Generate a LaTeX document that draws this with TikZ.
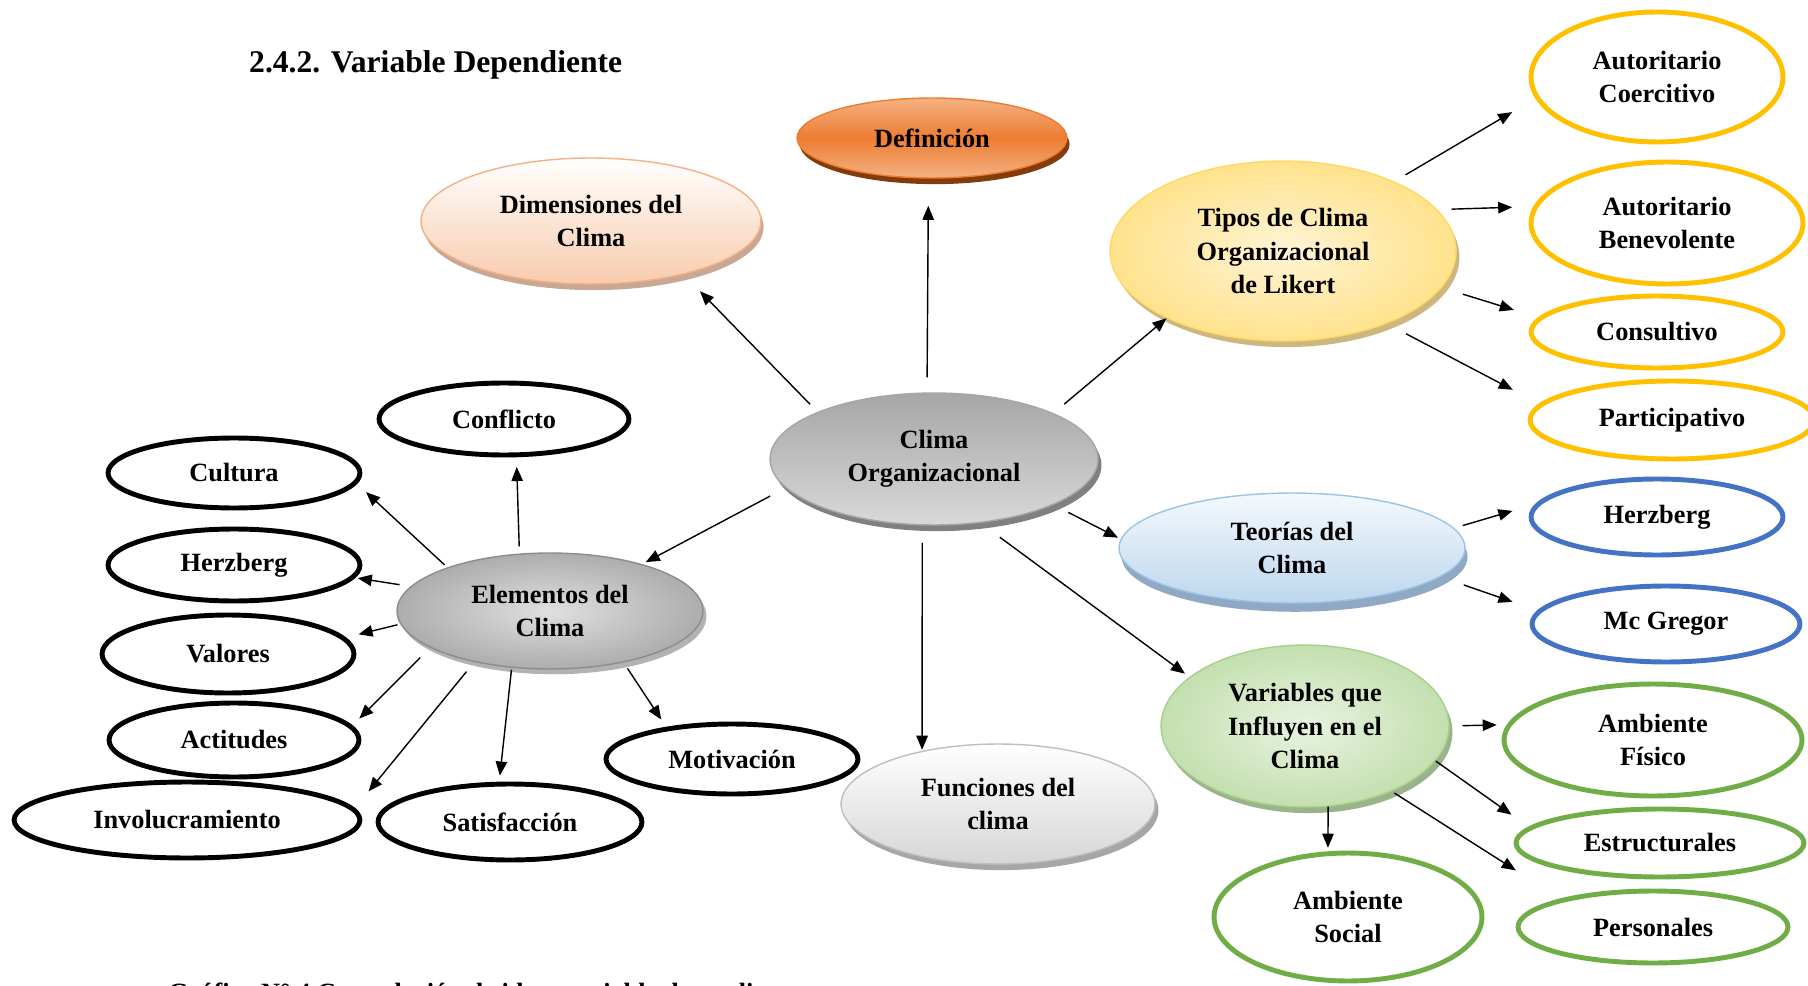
\documentclass[tikz,border=0pt]{standalone}
\usepackage{fontspec}
\setmainfont{Liberation Serif}
\usetikzlibrary{arrows.meta,shapes.geometric,shadows}

\definecolor{orMid}{HTML}{ED7D31}
\definecolor{orLight}{HTML}{F4B183}
\definecolor{orShadow}{HTML}{843C0C}
\definecolor{peach}{HTML}{F8CBAD}
\definecolor{peachLine}{HTML}{F4B183}
\definecolor{peachShadow}{HTML}{C8A894}
\definecolor{yelOuter}{HTML}{FFD966}
\definecolor{yelInner}{HTML}{FFF4D6}
\definecolor{yelShadow}{HTML}{CDB77E}
\definecolor{likert}{HTML}{FFC000}
\definecolor{blueTop}{HTML}{F4F9FD}
\definecolor{blueLight}{HTML}{BDD7EE}
\definecolor{blueLine}{HTML}{9DC3E6}
\definecolor{blueShadow}{HTML}{8FA9C4}
\definecolor{teoria}{HTML}{4472C4}
\definecolor{greenOuter}{HTML}{B0D596}
\definecolor{greenInner}{HTML}{E8F3E0}
\definecolor{greenLine}{HTML}{A9D18E}
\definecolor{greenShadow}{HTML}{9AB38B}
\definecolor{variab}{HTML}{70AD47}
\definecolor{grayTop}{HTML}{A6A6A6}
\definecolor{grayBottom}{HTML}{D9D9D9}
\definecolor{grayInner}{HTML}{E0E0E0}
\definecolor{grayOuter}{HTML}{8E8E8E}

\pgfdeclareradialshading{likertglow}{\pgfpoint{0bp}{0bp}}{color(0bp)=(yelInner); color(38bp)=(yelOuter); color(50bp)=(yelOuter)}
\pgfdeclareradialshading{variableglow}{\pgfpoint{0bp}{0bp}}{color(0bp)=(greenInner); color(38bp)=(greenOuter); color(50bp)=(greenOuter)}
\pgfdeclareradialshading{elementglow}{\pgfpoint{0bp}{0bp}}{color(0bp)=(grayInner); color(40bp)=(grayOuter); color(50bp)=(grayOuter)}

\begin{document}
\begin{tikzpicture}[x=0.02cm,y=-0.02cm,
        bubble/.style={ellipse, inner sep=0pt, align=center, font=\fontsize{15}{19}\selectfont\bfseries},
        sz/.style 2 args={minimum width=#1*0.04cm, minimum height=#2*0.04cm},
        ring/.style={bubble, draw=#1, line width=2.8pt, fill=white},
        arr/.style={-{Triangle[length=8pt,width=6.5pt]}, line width=0.8pt}]

        \useasboundingbox[fill=white] (0,0) rectangle (1808,986);

        % Titles
        \node[anchor=base west, font=\fontsize{18}{22}\selectfont\bfseries] (titulo) at (243,73) {2.4.2. Variable Dependiente};
        \node[anchor=base west, font=\fontsize{15}{18}\selectfont\bfseries] (grafico) at (162,1001) {Gráfico N° 4 Constelación de ideas variable dependiente};

        % Central ideas
        \node[bubble, sz={164}{66}, draw=grayTop, line width=0.8pt, top color=grayTop, bottom color=grayBottom,
                drop shadow={shadow xshift=2pt, shadow yshift=-3.5pt, fill=gray, opacity=1}] (clima) at (934,459) {Clima\\Organizacional};
        \node[bubble, sz={135}{40}, draw=orMid, line width=0.8pt, top color=orLight, bottom color=orLight, middle color=orMid,
                drop shadow={shadow xshift=1.5pt, shadow yshift=-3.5pt, fill=orShadow, opacity=1}] (def) at (932,138) {Definición};
        \node[bubble, sz={170}{63}, draw=peachLine, line width=0.8pt, top color=white, bottom color=peach,
                drop shadow={shadow xshift=1.5pt, shadow yshift=-3.5pt, fill=peachShadow, opacity=1}] (dim) at (591,221) {Dimensiones del\\Clima};
        \node[bubble, sz={173}{90}, draw=yelOuter, line width=0.8pt, shade, shading=likertglow,
                drop shadow={shadow xshift=2pt, shadow yshift=-3.5pt, fill=yelShadow, opacity=1}] (tipos) at (1283,251) {Tipos de Clima\\Organizacional\\de Likert};
        \node[bubble, sz={173}{55}, draw=blueLine, line width=0.8pt, top color=blueTop, bottom color=blueLight,
                drop shadow={shadow xshift=1.5pt, shadow yshift=-5pt, fill=blueShadow, opacity=1}] (teo) at (1292,548) {Teorías del\\Clima};
        \node[bubble, sz={144}{81}, draw=greenLine, line width=0.8pt, shade, shading=variableglow,
                drop shadow={shadow xshift=2pt, shadow yshift=-3.5pt, fill=greenShadow, opacity=1}] (var) at (1305,726) {Variables que\\Influyen en el\\Clima};
        \node[bubble, sz={157}{60}, draw=gray!50, line width=0.8pt, top color=white, bottom color=gray!32,
                drop shadow={shadow xshift=2pt, shadow yshift=-3.5pt, fill=gray!70, opacity=1}] (fun) at (998,804) {Funciones del\\clima};
        \node[bubble, sz={153}{58}, draw=gray!90, line width=0.8pt, shade, shading=elementglow,
                drop shadow={shadow xshift=2pt, shadow yshift=-3pt, fill=gray!60, opacity=1}] (ele) at (550,611) {Elementos del\\Clima};

        % Elementos del clima
        \node[ring=black, sz={125}{36}] (conf) at (504,419) {Conflicto};
        \node[ring=black, sz={126}{35}] (cult) at (234,473) {Cultura};
        \node[ring=black, sz={126}{36}] (herzL) at (234,565) {Herzberg};
        \node[ring=black, sz={126}{39}] (val) at (228,654) {Valores};
        \node[ring=black, sz={125}{37}] (act) at (234,740) {Actitudes};
        \node[ring=black, sz={173}{38}] (inv) at (187,820) {Involucramiento};
        \node[ring=black, sz={132}{38}] (sat) at (510,822) {Satisfacción};
        \node[ring=black, sz={126}{35}] (mot) at (732,759) {Motivación};

        % Tipos de Likert
        \node[ring=likert, sz={126}{65}] (ac) at (1657,77) {Autoritario\\Coercitivo};
        \node[ring=likert, sz={136}{61}] (ab) at (1667,223) {Autoritario\\Benevolente};
        \node[ring=likert, sz={126}{36}] (cons) at (1657,332) {Consultivo};
        \node[ring=likert, sz={142}{39}] (part) at (1672,420) {Participativo};

        % Teorias
        \node[ring=teoria, sz={126}{38}] (herzR) at (1657,517) {Herzberg};
        \node[ring=teoria, sz={134}{38}] (mcg) at (1666,624) {Mc Gregor};

        % Variables
        \node[ring=variab, sz={149}{56}] (af) at (1653,740) {Ambiente\\Físico};
        \node[ring=variab, sz={144}{34}] (est) at (1660,843) {Estructurales};
        \node[ring=variab, sz={135}{36}] (pers) at (1653,927) {Personales};
        \node[ring=variab, sz={134}{64}] (as) at (1348,917) {Ambiente\\Social};

        % Arrows from the centre
        \draw[arr, shorten <=8.5pt, shorten >=15.4pt] (clima.96) -- (def.265);
        \draw[arr, shorten <=6pt, shorten >=13.3pt] (clima.158) -- (dim.-30);
        \draw[arr, shorten <=8pt] (clima.21) -- (tipos.210);
        \draw[arr, shorten <=9.4pt, shorten >=1.7pt] (clima.-21) -- (teo.177);
        \draw[arr, shorten <=13.7pt, shorten >=3.1pt] (clima.-54) -- (var.157);
        \draw[arr, shorten <=9.9pt, shorten >=0.6pt] (clima.260) -- (fun.145);
        \draw[arr, shorten <=10pt, shorten >=2.3pt] (clima.191) -- (ele.27);

        % Arrows of the elements
        \draw[arr, shorten <=4pt, shorten >=5.5pt] (ele.118) -- (conf.-72);
        \draw[arr, shorten <=2.1pt, shorten >=7pt] (ele.157) -- (cult.-5.7);
        \draw[arr, shorten <=6.3pt, shorten >=1.5pt] (ele.170) -- (herzL.-6);
        \draw[arr, shorten <=1.7pt, shorten >=7.5pt] (ele.185) -- (val.8);
        \draw[arr, shorten <=8pt, shorten >=5.5pt] (ele.197) -- (act.7.5);
        \draw[arr, shorten <=7pt, shorten >=12.4pt] (ele.214) -- (inv.4);
        \draw[arr, shorten <=1.1pt, shorten >=3.5pt] (ele.236) -- (sat.105);
        \draw[arr, shorten <=4pt, shorten >=5pt] (ele.-35) -- (mot.154);

        % Arrows of Likert
        \draw[arr, shorten <=7.4pt, shorten >=15.3pt] (tipos.32) -- (ac.190);
        \draw[arr, shorten <=8pt, shorten >=12pt] (tipos.15) -- (ab.173);
        \draw[arr, shorten <=12.5pt, shorten >=14.5pt] (tipos.-13) -- (cons.173);
        \draw[arr, shorten <=12.4pt, shorten >=17pt] (tipos.-35.6) -- (part.173.6);

        % Arrows of the theories
        \draw[arr, shorten <=5.1pt, shorten >=13.5pt] (teo.7) -- (herzR.174);
        \draw[arr, shorten <=14pt, shorten >=15pt] (teo.-11) -- (mcg.174);

        % Arrows of the variables
        \draw[arr, shorten <=7.4pt, shorten >=5.8pt] (var.0) -- (af.174);
        \draw[arr, shorten >=12pt] (var.-15) -- (est.173);
        \draw[arr, shorten <=1.8pt, shorten >=30pt] (var.-37.4) -- (pers.163.7);
        \draw[arr, shorten >=2pt] (var.-74) -- (as.107);

\end{tikzpicture}
\end{document}
